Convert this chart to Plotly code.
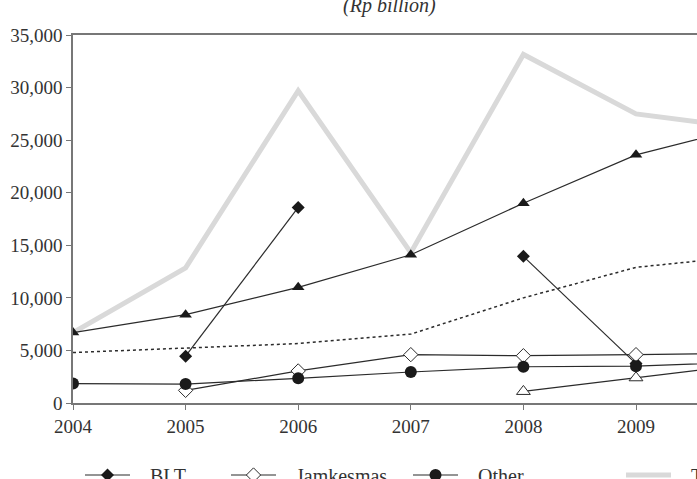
import plotly.graph_objects as go

years = [2004, 2005, 2006, 2007, 2008, 2009, 2010]
total = [6700, 12850, 29700, 14300, 33150, 27500, 26100]
series_tri = [6700, 8400, 11000, 14100, 19000, 23600, 26300]
series_dot = [4800, 5250, 5650, 6550, 10000, 12900, 14000]
blt = [None, 4450, 18600, None, 13950, 3750, None]
jamkesmas = [None, 1200, 3050, 4600, 4500, 4600, 4750]
other = [1850, 1800, 2350, 2950, 3450, 3500, 3900]
series_open_tri = [None, None, None, None, 1100, 2400, 3700]

y_ticks = [0, 5000, 10000, 15000, 20000, 25000, 30000, 35000]
y_ticktext = ["0", "5,000", "10,000", "15,000", "20,000", "25,000", "30,000", "35,000"]
x_ticks = [2004, 2005, 2006, 2007, 2008, 2009, 2010]

FONT = "Liberation Serif"
INK = "#2b2b2b"
PAD = "\u00a0\u00a0\u00a0"

W, H = 697, 479
L, R, T, B = 73, 0, 35, 76
pw = W - L - R
ph = H - T - B


def px2x(px):
    return (px - L) / pw


def py2y(py):
    return (H - B - py) / ph


fig = go.Figure()

fig.add_trace(go.Scatter(x=years, y=total, mode="lines", name=PAD + "Total",
                         line=dict(color="#d9d9d9", width=5), legend="legend4"))
fig.add_trace(go.Scatter(x=years, y=series_dot, mode="lines", name="Series D",
                         line=dict(color=INK, width=1.5, dash="dot"), showlegend=False))
fig.add_trace(go.Scatter(x=years, y=series_tri, mode="lines+markers", name="Series T",
                         line=dict(color=INK, width=1.2),
                         marker=dict(symbol="triangle-up", size=11, color="#1a1a1a"),
                         showlegend=False))
fig.add_trace(go.Scatter(x=years, y=blt, mode="lines+markers", name=PAD + "BLT",
                         line=dict(color=INK, width=1.2), connectgaps=False,
                         marker=dict(symbol="diamond", size=10, color="#1a1a1a"),
                         legend="legend"))
fig.add_trace(go.Scatter(x=years, y=jamkesmas, mode="lines+markers", name=PAD + "Jamkesmas",
                         line=dict(color=INK, width=1.2),
                         marker=dict(symbol="diamond", size=11, color="white",
                                     line=dict(color=INK, width=1)),
                         legend="legend2"))
fig.add_trace(go.Scatter(x=years, y=other, mode="lines+markers", name=PAD + "Other",
                         line=dict(color=INK, width=1.2),
                         marker=dict(symbol="circle", size=12, color="#1a1a1a"),
                         legend="legend3"))
fig.add_trace(go.Scatter(x=years, y=series_open_tri, mode="lines+markers", name="Series O",
                         line=dict(color=INK, width=1.2),
                         marker=dict(symbol="triangle-up", size=12, color="white",
                                     line=dict(color=INK, width=1)),
                         showlegend=False))

leg_font = dict(family=FONT, size=20, color="#333333")
leg_common = dict(orientation="h", xanchor="left", yanchor="middle",
                  font=leg_font, bgcolor="rgba(0,0,0,0)", itemwidth=45)
ly = py2y(475)

fig.update_layout(
    width=W, height=H,
    margin=dict(l=L, r=R, t=T, b=B, autoexpand=False),
    paper_bgcolor="white", plot_bgcolor="white",
    font=dict(family=FONT, size=19, color="#333333"),
    xaxis=dict(range=[2004, 2004 + pw / 112.6], tickvals=x_ticks,
               ticktext=[str(v) for v in x_ticks],
               showgrid=False, zeroline=False, showline=True, linecolor="#777777",
               linewidth=1.5, mirror=True, ticks="outside", ticklen=5,
               tickcolor="#777777", tickfont=dict(family=FONT, size=19, color="#333333")),
    yaxis=dict(range=[0, 35000], tickvals=y_ticks, ticktext=y_ticktext,
               showgrid=False, zeroline=False, showline=True, linecolor="#777777",
               linewidth=1.5, mirror=True, ticks="outside", ticklen=5,
               tickcolor="#777777", tickfont=dict(family=FONT, size=19, color="#333333")),
    legend=dict(x=px2x(80), y=ly, **leg_common),
    legend2=dict(x=px2x(226), y=ly, **leg_common),
    legend3=dict(x=px2x(408), y=ly, **leg_common),
    legend4=dict(x=px2x(621), y=ly, **leg_common),
    annotations=[dict(text="<i>(Rp billion)</i>", x=px2x(389), y=py2y(19),
                      xref="paper", yref="paper", xanchor="center", yanchor="bottom",
                      showarrow=False, font=dict(family=FONT, size=20, color="#333333"))],
)

fig.write_html("out.html")
